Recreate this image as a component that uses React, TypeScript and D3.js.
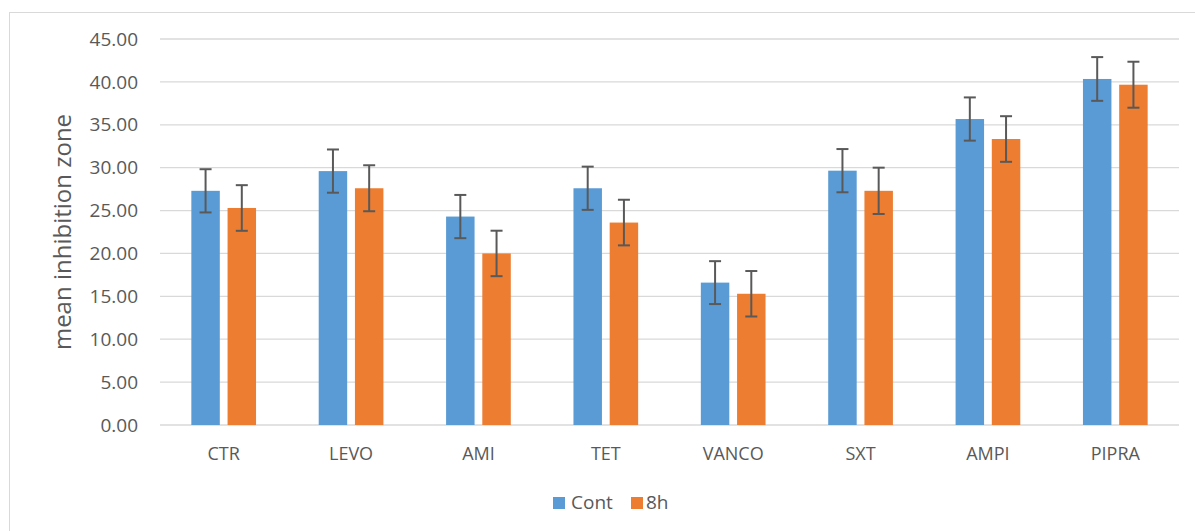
import React from "react";
import * as d3 from "d3";

const categories = ["CTR", "LEVO", "AMI", "TET", "VANCO", "SXT", "AMPI", "PIPRA"];
const seriesNames = ["Cont", "8h"];
const contValues = [27.3, 29.6, 24.3, 27.6, 16.6, 29.65, 35.67, 40.34];
const h8Values = [25.3, 27.6, 20.0, 23.6, 15.3, 27.3, 33.34, 39.67];
const contErrors = [2.52, 2.52, 2.52, 2.52, 2.5, 2.52, 2.52, 2.55];
const h8Errors = [2.66, 2.68, 2.65, 2.66, 2.65, 2.7, 2.66, 2.68];
const yTicks = [0, 5, 10, 15, 20, 25, 30, 35, 40, 45];
const colors = ["#5B9BD5", "#ED7D31"];

const W = 1195;
const H = 531;
const left = 160;
const right = 1179;
const top = 39;
const bottom = 425;
const FONT = "'Open Sans', 'Noto Sans', sans-serif";

export default function App() {
  const x0 = d3.scaleBand<string>().domain(categories).range([left, right]).paddingInner(0).paddingOuter(0);
  const groupW = 64.7;
  const x1 = d3.scaleBand<string>().domain(seriesNames).range([0, groupW]).paddingInner(0.214);
  const y = d3.scaleLinear().domain([0, 45]).range([bottom, top]);
  const series = [
    { name: "Cont", values: contValues, errors: contErrors, color: colors[0] },
    { name: "8h", values: h8Values, errors: h8Errors, color: colors[1] },
  ];
  const capW = 12;

  return (
    <svg width={W} height={H} style={{ display: "block", position: "absolute", left: 0, top: 0 }}>
      <rect x={0} y={0} width={W} height={H} fill="#fff" />
      <rect x={9.5} y={12.5} width={1300} height={600} fill="none" stroke="#D9D9D9" strokeWidth={1} />
      {yTicks.map((t) => (
        <g key={t}>
          <line x1={left} x2={right} y1={y(t)} y2={y(t)} stroke="#D9D9D9" strokeWidth={1.3} />
          <text x={138} y={y(t)} dy="0.35em" textAnchor="end" fontFamily={FONT} fontSize={19} fill="#595959">
            {t.toFixed(2)}
          </text>
        </g>
      ))}
      {categories.map((c, i) => {
        const gx = (x0(c) as number) + x0.bandwidth() / 2 - groupW / 2;
        return (
          <g key={c}>
            {series.map((s) => {
              const bx = gx + (x1(s.name) as number);
              const bw = x1.bandwidth();
              const v = s.values[i];
              const e = s.errors[i];
              const cx = bx + bw / 2;
              return (
                <g key={s.name}>
                  <rect x={bx} y={y(v)} width={bw} height={y(0) - y(v)} fill={s.color} />
                  <line x1={cx} x2={cx} y1={y(v + e)} y2={y(v - e)} stroke="#595959" strokeWidth={2} />
                  <line x1={cx - capW / 2} x2={cx + capW / 2} y1={y(v + e)} y2={y(v + e)} stroke="#595959" strokeWidth={2} />
                  <line x1={cx - capW / 2} x2={cx + capW / 2} y1={y(v - e)} y2={y(v - e)} stroke="#595959" strokeWidth={2} />
                </g>
              );
            })}
            <text x={(x0(c) as number) + x0.bandwidth() / 2} y={460} textAnchor="middle" fontFamily={FONT} fontSize={18} fill="#595959">
              {c}
            </text>
          </g>
        );
      })}
      <text
        transform={`translate(71,${(top + bottom) / 2}) rotate(-90)`}
        textAnchor="middle"
        fontFamily={FONT}
        fontSize={24}
        fill="#595959"
      >
        mean inhibition zone
      </text>
      <g>
        <rect x={553} y={497} width={12} height={12} fill={colors[0]} />
        <text x={571} y={509} fontFamily={FONT} fontSize={19} fill="#595959">Cont</text>
        <rect x={631} y={497} width={12} height={12} fill={colors[1]} />
        <text x={646} y={509} fontFamily={FONT} fontSize={19} fill="#595959">8h</text>
      </g>
    </svg>
  );
}
